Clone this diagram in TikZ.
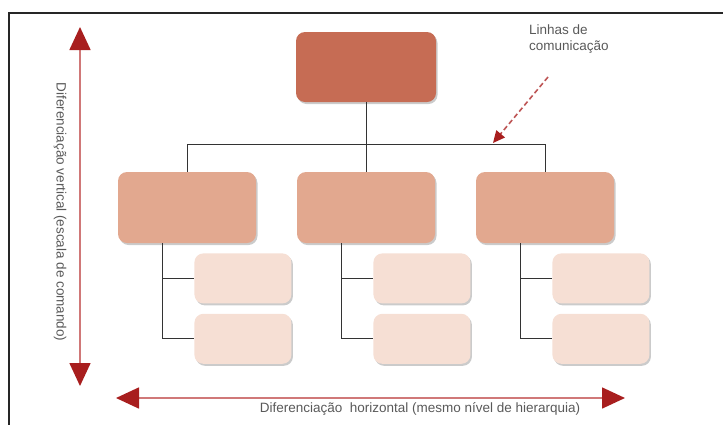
\documentclass[tikz,border=0pt]{standalone}
\usepackage{fontspec}
\setmainfont{Liberation Sans}
\usetikzlibrary{arrows.meta, shadows, positioning}

\definecolor{chefe}{RGB}{198,108,84}
\definecolor{gerente}{RGB}{226,168,143}
\definecolor{staff}{RGB}{246,223,212}
\definecolor{seta}{RGB}{168,30,30}
\definecolor{haste}{RGB}{208,120,120}

\begin{document}
\begin{tikzpicture}[x=1pt, y=-1pt,
  cx/.style = {rounded corners = 9pt, inner sep = 0pt,
    drop shadow = {shadow xshift = 1.5pt, shadow yshift = -2pt, fill = black!45, opacity = .45}},
  topo/.style = {cx, fill = chefe, minimum width = 140pt, minimum height = 70pt},
  meio/.style = {cx, fill = gerente, minimum width = 138pt, minimum height = 71pt},
  base/.style = {cx, fill = staff, minimum width = 97pt, minimum height = 50pt},
  liga/.style = {draw = black!80, line width = 1pt},
  eixo/.style = {draw = haste, line width = 1.6pt,
    {Triangle[length = 23pt, width = 21pt, color = seta]}-{Triangle[length = 23pt, width = 21pt, color = seta]}},
  rot/.style = {font = \fontsize{13.5}{16}\selectfont, text = black!65}]
\useasboundingbox (0,0) rectangle (723,424);
\draw[black!85, line width = 1.3pt] (730,13) -- (9,13) -- (9,430);

% hierarquia
\node[topo] (top) at (366,67) {};
\node[meio] (m1) at (187,207.5) {};
\node[meio] (m2) at (366,207.5) {};
\node[meio] (m3) at (545,207.5) {};
\foreach \i in {1,2,3}{
\node[base, below right = 10pt and -62pt of m\i] (s\i a) {};
\node[base, below = 10pt of s\i a] (s\i b) {};
}

\draw[liga] (top.south) -- (m2.north);
\draw[liga] (m1.north) -- ++(0,-27) -| (m3.north);
\foreach \i in {1,2,3}{
\draw[liga] (m\i.south) ++(-25,0) |- (s\i b.west);
\draw[liga] (m\i.south) ++(-25,0) |- (s\i a.west);
}

% eixos
\coordinate (vt) at (80,27);
\coordinate (vb) at (80,386);
\coordinate (hl) at (116,398);
\coordinate (hr) at (625,398);
\draw[eixo] (vt) -- (vb);
\draw[eixo] (hl) -- (hr);
\node[rot, rotate = -90] (vlab) at (60,212) {Diferenciação vertical (escala de comando)};
\node[rot] (hlab) at (420,409) {Diferenciação\ \ horizontal (mesmo nível de hierarquia)};

% linhas de comunicacao
\node[rot, align = left, anchor = north west, inner sep = 0pt] (lc) at (529,25) {Linhas de\\comunicação};
\coordinate (lc0) at (548,77);
\coordinate (lc1) at (493,143);
\draw[draw = seta!75, line width = 1.6pt, dash pattern = on 5pt off 3pt, -{Triangle[length = 12pt, width = 11pt, color = seta]}] (lc0) -- (lc1);
\end{tikzpicture}
\end{document}
